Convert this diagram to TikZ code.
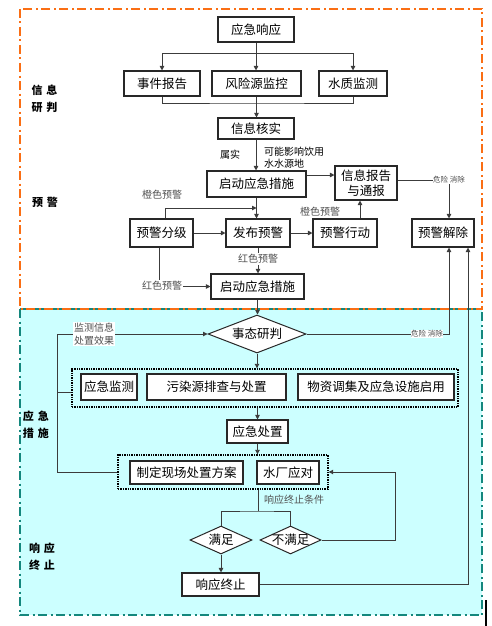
\documentclass[tikz,border=0pt]{standalone}
\usepackage{fontspec}
\setmainfont{Noto Sans CJK SC}
\usetikzlibrary{arrows.meta,shapes.geometric,calc}
\definecolor{orangeb}{RGB}{250,110,20}
\definecolor{tealb}{RGB}{20,135,125}
\definecolor{cyanbg}{RGB}{204,255,255}
\definecolor{linec}{RGB}{40,40,40}
\definecolor{conn}{RGB}{60,60,60}
\definecolor{lblc}{RGB}{80,80,80}
\begin{document}
\begin{tikzpicture}[x=1pt,y=-1pt,
  box/.style={draw=linec,line width=1.1pt,fill=white,inner sep=0pt,align=center,font=\fontsize{12.5}{15}\selectfont},
  grp/.style={draw=black,densely dotted,line width=1.4pt,inner sep=0pt},
  dec/.style={diamond,draw=linec,line width=1pt,fill=white,inner sep=0pt},
  dtext/.style={font=\fontsize{12.5}{15}\selectfont,inner sep=0pt},
  lbl/.style={font=\fontsize{10}{12.5}\selectfont,text=lblc,inner sep=1pt},
  tiny/.style={font=\fontsize{7.5}{9}\selectfont,text=lblc,fill=white,inner sep=0.5pt},
  side/.style={font=\bfseries\fontsize{11}{17}\selectfont,align=center,inner sep=0pt},
  arr/.style={draw=conn,line width=0.9pt,-{Triangle[length=4.5pt,width=4.5pt]}},
  ln/.style={draw=conn,line width=0.9pt},
  dashdot/.style={line width=2.3pt,dash pattern={on 9pt off 3.5pt on 2pt off 3.5pt}}
]
\useasboundingbox (0,0) rectangle (491,626);
% regions
\fill[cyanbg] (20,309) rectangle (482,615);
\draw[tealb,dashdot] (20,309) rectangle (482,615);
\draw[orangeb,dashdot] (20,9) rectangle (482,309);
\draw[black,line width=2.5pt] (486,600) -- (486,626);
% side labels
\node[side] (s1) at (44.5,98.5) {信\hspace{4pt}息\\研\hspace{4pt}判};
\node[side] (s2) at (45,202) {预\hspace{4pt}警};
\node[side] (s3) at (36,425) {应\hspace{4pt}急\\措\hspace{4pt}施};
\node[side] (s4) at (42,556.5) {响\hspace{4pt}应\\终\hspace{4pt}止};
% groups
\node[grp,minimum width=386,minimum height=38] (g1) at (265,388) {};
\node[grp,minimum width=210,minimum height=34] (g2) at (223,472) {};
% boxes
\node[box,minimum width=76,minimum height=25] (r0) at (256,29.5) {应急响应};
\node[box,minimum width=76,minimum height=25] (r1) at (162,83.5) {事件报告};
\node[box,minimum width=89,minimum height=25] (r2) at (256.5,83.5) {风险源监控};
\node[box,minimum width=68,minimum height=25] (r3) at (353,83.5) {水质监测};
\node[box,minimum width=76,minimum height=21] (hs) at (256,128.5) {信息核实};
\node[box,minimum width=99,minimum height=26] (q1) at (256.5,184) {启动应急措施};
\node[box,minimum width=62,minimum height=34] (rep) at (366,183) {信息报告\\与通报};
\node[box,minimum width=63,minimum height=28] (fj) at (161.5,233) {预警分级};
\node[box,minimum width=64,minimum height=28] (fb) at (258,233) {发布预警};
\node[box,minimum width=64,minimum height=28] (xd) at (345,233) {预警行动};
\node[box,minimum width=62,minimum height=28] (jc) at (443,233) {预警解除};
\node[box,minimum width=93,minimum height=25] (q2) at (257.5,286.5) {启动应急措施};
\node[dec,minimum width=98,minimum height=38,label={[dtext]center:事态研判}] (yp) at (257,334) {};
\node[box,minimum width=56,minimum height=26] (m1) at (109,387) {应急监测};
\node[box,minimum width=139,minimum height=26] (m2) at (216.5,387) {污染源排查与处置};
\node[box,minimum width=156,minimum height=26] (m3) at (376,387) {物资调集及应急设施启用};
\node[box,minimum width=61,minimum height=23] (cz) at (257.5,431.5) {应急处置};
\node[box,minimum width=113,minimum height=23] (fa) at (186.5,472.5) {制定现场处置方案};
\node[box,minimum width=62,minimum height=23] (sc) at (288,472.5) {水厂应对};
\node[dec,minimum width=62,minimum height=28,label={[dtext]center:满足}] (mz) at (221,540) {};
\node[dec,minimum width=61,minimum height=28,label={[dtext]center:不满足}] (bmz) at (290.5,540) {};
\node[box,minimum width=77,minimum height=23] (zz) at (220.5,584.5) {响应终止};
% top connectors
\coordinate (t1) at (256,53);
\draw[arr] (r0.south) -- (r0.south |- r2.north);
\draw[arr] (t1) -| (r1.north);
\draw[arr] (t1) -| (r3.north);
\coordinate (b1) at (256,103);
\draw[ln] (r1.south) |- (b1) -| (r3.south);
\draw[arr] (r2.south) -- (r2.south |- hs.north);
\draw[arr] (hs.south) -- (hs.south |- q1.north);
\node[lbl,text=black] (l1) at (230,155) {属实};
\node[lbl,text=black,align=left,anchor=west,font=\fontsize{10}{11.5}\selectfont] (l2) at (263,157.5) {可能影响饮用\\水水源地};
\draw[arr] ([yshift=9pt]q1.east) -- ([yshift=9pt]q1.east -| rep.west);
\coordinate (c1) at (449,180);
\draw[arr] (rep.east |- c1) -- (c1) -- (c1 |- jc.north);
\node[tiny] (l3) at (c1) {危险 消除};
% warning level
\draw[arr] (q1.south) -- (q1.south |- fb.north);
\draw[arr] ([xshift=3.5pt]fj.north) |- (q1.south |- 0,208);
\node[lbl] (l4) at (162,195) {橙色预警};
\draw[arr] (fj.east) -- (fb.west);
\draw[arr] (fb.east) -- (xd.west);
\draw[arr] ([xshift=15pt]xd.north) -- ([xshift=15pt]xd.north |- rep.south);
\node[lbl] (l5) at (320,212) {橙色预警};
\draw[arr] (fb.south) -- (fb.south |- q2.north);
\node[lbl,fill=white] (l6) at (258,259) {红色预警};
\draw[arr] ([xshift=-2.5pt]fj.south) |- (q2.west);
\node[lbl,fill=white] (l7) at (162,286) {红色预警};
% response
\draw[arr] (q2.south) -- (q2.south |- yp.north);
\draw[arr] (yp.east) -| ([xshift=6pt]jc.south);
\node[tiny] (l8) at (427,334) {危险 消除};
\draw[arr] (yp.south) -- (yp.south |- g1.north);
\draw[arr] (g1.south -| cz.north) -- (cz.north);
\draw[arr] (cz.south) -- (cz.south |- g2.north);
\coordinate (fk) at (57,334);
\draw[ln] ([yshift=-4pt]g1.west) -- ([yshift=-4pt]g1.west -| fk);
\draw[arr] (g2.west) -| (fk) -- (yp.west);
\node[lbl,fill=white,align=left,text=lblc] (l9) at (94,334) {监测信息\\处置效果};
% termination
\coordinate (sp) at (258,511);
\draw[ln] (g2.south -| sp) -- (sp);
\draw[ln] (mz.north) |- (sp) -| (bmz.north);
\node[lbl,anchor=west] (l10) at (263,500) {响应终止条件};
\coordinate (rr) at (395,472);
\draw[arr] (bmz.east) -| (rr) -- (g2.east);
\draw[arr] (mz.south) -- (mz.south |- zz.north);
\draw[arr] (zz.east) -| ([xshift=25pt]jc.south);
\end{tikzpicture}
\end{document}
